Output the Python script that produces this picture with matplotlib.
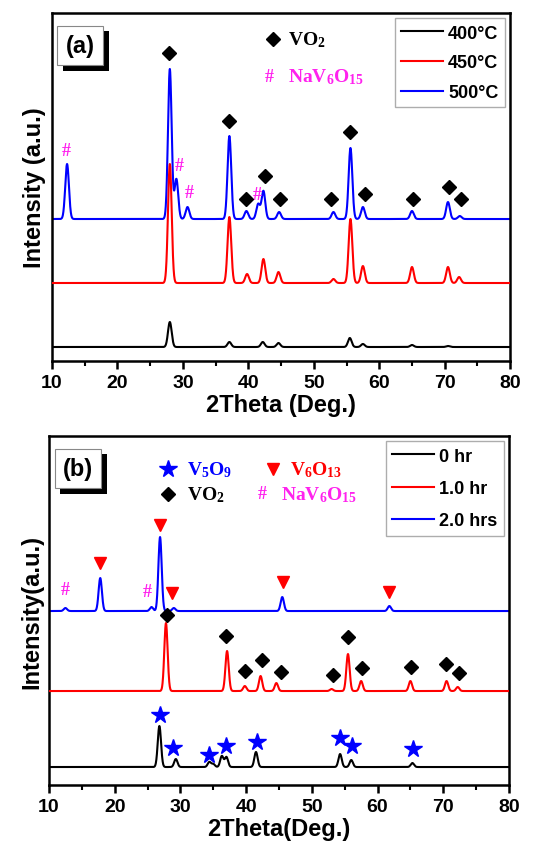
import matplotlib
matplotlib.use('Agg')
import matplotlib.pyplot as plt
import matplotlib.patheffects as pe
import numpy as np

plt.rcParams['font.family'] = 'Liberation Sans'
plt.rcParams['font.weight'] = 'bold'
plt.rcParams['mathtext.fontset'] = 'custom'
plt.rcParams['mathtext.rm'] = 'Liberation Serif:bold'
plt.rcParams['mathtext.bf'] = 'Liberation Serif:bold'
plt.rcParams['mathtext.it'] = 'Liberation Serif:bold'

# ---- panel (a) data: peak positions (2theta) and heights above each baseline ----
a_labels = ['400°C', '450°C', '500°C']
a_offsets = [14, 78, 142]
a_black_pos = [28.0, 37.1, 42.2, 44.6, 55.5, 57.5, 65.0, 70.5]
a_black_int = [25, 5, 5, 4, 9, 3, 2, 1]
a_red_pos = [28.0, 37.1, 39.8, 42.3, 44.6, 53.0, 55.6, 57.5, 65.0, 70.5, 72.2]
a_red_int = [119, 66, 9, 24, 11, 4, 64, 17, 16, 16, 6]
a_blue_pos = [12.3, 28.0, 29.0, 30.7, 37.1, 39.7, 41.5, 42.3, 44.7, 53.0, 55.6, 57.5, 65.0, 70.5, 72.3]
a_blue_int = [55, 150, 40, 12, 83, 8, 15, 28, 7, 7, 71, 12, 8, 17, 3]

a_vo2_x = [27.8, 37.1, 42.5, 39.6, 44.8, 52.7, 55.5, 57.8, 65.1, 70.6, 72.5]
a_vo2_y = [308, 240, 185, 162, 162, 162, 229, 167, 162, 174, 162]
a_nav_x = [12.1, 29.5, 31.0, 41.4]
a_nav_y = [211, 196, 169, 167]

# ---- panel (b) data ----
b_labels = ['0 hr', '1.0 hr', '2.0 hrs']
b_offsets = [18, 94, 174]
b_black_pos = [26.8, 29.3, 34.4, 35.0, 36.3, 37.0, 41.5, 54.3, 56.0, 65.3]
b_black_int = [41, 8, 5, 3, 11, 10, 15, 13, 7, 4]
b_red_pos = [27.8, 37.1, 39.8, 42.2, 44.6, 53.0, 55.5, 57.5, 65.0, 70.5, 72.2]
b_red_int = [68, 40, 5, 15, 8, 2, 37, 10, 10, 10, 4]
b_blue_pos = [12.5, 17.8, 25.6, 26.9, 29.0, 45.5, 61.8]
b_blue_int = [3, 33, 4, 74, 3, 14, 5]

b_v6o13_x = [17.8, 26.9, 28.7, 45.6, 61.7]
b_v6o13_y = [222, 260, 192, 203, 193]
b_nav_x = [12.4, 24.9]
b_nav_y = [196, 194]
b_vo2_x = [28.0, 36.9, 55.5, 39.8, 42.4, 45.3, 53.2, 57.6, 65.1, 70.4, 72.4]
b_vo2_y = [170, 149, 148, 114, 125, 113, 110, 117, 118, 121, 112]
b_v5o9_x = [26.9, 28.9, 34.3, 36.9, 41.6, 54.3, 56.1, 65.4]
b_v5o9_y = [70, 37, 30, 39, 43, 47, 39, 36]

colors = ['black', 'red', 'blue']
magenta = '#ff22ee'
x = np.arange(10, 80.01, 0.02)


def pattern(pos, hts, w=0.28):
    y = np.zeros_like(x)
    for p, h in zip(pos, hts):
        y += h * np.exp(-0.5 * ((x - p) / w) ** 2)
    return y


def label_box(ax, txt, xf, yf):
    t = ax.text(xf, yf, txt, transform=ax.transAxes, fontsize=17, fontweight='bold', va='top',
                bbox=dict(boxstyle='square,pad=0.35', fc='white', ec='#888888', lw=0.8), zorder=6)
    t.get_bbox_patch().set_path_effects([
        pe.SimplePatchShadow(offset=(4, -4), shadow_rgbFace='black', alpha=1.0), pe.Normal()])


def style(ax, xlabel, ylabel, ymax):
    ax.set_xlim(10, 80)
    ax.set_ylim(0, ymax)
    ax.set_xticks(range(10, 81, 10))
    ax.set_xticks(range(15, 80, 10), minor=True)
    ax.set_yticks([])
    ax.tick_params(axis='x', which='major', direction='out', length=6, width=1.8, labelsize=14)
    ax.tick_params(axis='x', which='minor', direction='out', length=3.5, width=1.5)
    for s in ax.spines.values():
        s.set_linewidth(1.8)
    ax.set_xlabel(xlabel, fontsize=17, fontweight='bold', labelpad=1)
    ax.set_ylabel(ylabel, fontsize=17, fontweight='bold', labelpad=4)


def add_legend(ax, spacing):
    leg = ax.legend(loc='upper right', fontsize=13, handlelength=2.3, handletextpad=0.3,
                    borderaxespad=0.3, labelspacing=spacing, fancybox=False, borderpad=0.35)
    leg.get_frame().set_edgecolor('#999999')
    for t in leg.get_texts():
        t.set_fontweight('bold')


fig = plt.figure(figsize=(5.39, 8.45), dpi=100)

# ---------------- panel (a) ----------------
ax1 = fig.add_axes([0.0965, 0.5716, 0.85, 0.4118])
a_series = [(a_black_pos, a_black_int), (a_red_pos, a_red_int), (a_blue_pos, a_blue_int)]
zo = [4, 3, 2]
for (pos, hts), off, c, lab, z in zip(a_series, a_offsets, colors, a_labels, zo):
    ax1.plot(x, off + pattern(pos, hts), color=c, lw=1.5, label=lab, zorder=z)
ax1.plot(a_vo2_x, a_vo2_y, 'D', color='black', ms=7, ls='none', zorder=5)
for xx, yy in zip(a_nav_x, a_nav_y):
    ax1.text(xx, yy, '#', color=magenta, fontsize=13, family='Liberation Serif',
             ha='center', va='center', fontweight='bold')
ax1.plot([0.483], [0.925], 'D', color='black', ms=7, transform=ax1.transAxes)
ax1.text(0.515, 0.925, r'$\mathrm{VO_2}$', transform=ax1.transAxes, fontsize=14, va='center')
ax1.text(0.474, 0.819, '#', transform=ax1.transAxes, fontsize=13, color=magenta,
         family='Liberation Serif', ha='center', va='center')
ax1.text(0.515, 0.819, r'$\mathrm{NaV_6O_{15}}$', transform=ax1.transAxes, fontsize=14,
         va='center', color=magenta)
add_legend(ax1, 0.7)
label_box(ax1, '(a)', 0.03, 0.94)
style(ax1, '2Theta (Deg.)', 'Intensity (a.u.)', 348)

# ---------------- panel (b) ----------------
ax2 = fig.add_axes([0.0909, 0.0698, 0.8534, 0.413])
b_series = [(b_black_pos, b_black_int), (b_red_pos, b_red_int), (b_blue_pos, b_blue_int)]
for (pos, hts), off, c, lab, z in zip(b_series, b_offsets, colors, b_labels, zo):
    ax2.plot(x, off + pattern(pos, hts, 0.25), color=c, lw=1.5, label=lab, zorder=z)
ax2.plot(b_v6o13_x, b_v6o13_y, 'v', color='red', ms=9, ls='none', zorder=5)
ax2.plot(b_vo2_x, b_vo2_y, 'D', color='black', ms=7, ls='none', zorder=5)
ax2.plot(b_v5o9_x, b_v5o9_y, '*', color='blue', ms=13, ls='none', zorder=5)
for xx, yy in zip(b_nav_x, b_nav_y):
    ax2.text(xx, yy, '#', color=magenta, fontsize=13, family='Liberation Serif',
             ha='center', va='center')
ax2.plot([0.259], [0.905], '*', color='blue', ms=13, transform=ax2.transAxes)
ax2.text(0.30, 0.905, r'$\mathrm{V_5O_9}$', transform=ax2.transAxes, fontsize=14,
         va='center', color='blue')
ax2.plot([0.487], [0.905], 'v', color='red', ms=9, transform=ax2.transAxes)
ax2.text(0.525, 0.905, r'$\mathrm{V_6O_{13}}$', transform=ax2.transAxes, fontsize=14,
         va='center', color='red')
ax2.plot([0.259], [0.834], 'D', color='black', ms=7, transform=ax2.transAxes)
ax2.text(0.30, 0.834, r'$\mathrm{VO_2}$', transform=ax2.transAxes, fontsize=14, va='center')
ax2.text(0.463, 0.834, '#', transform=ax2.transAxes, fontsize=13, color=magenta,
         family='Liberation Serif', ha='center', va='center')
ax2.text(0.505, 0.834, r'$\mathrm{NaV_6O_{15}}$', transform=ax2.transAxes, fontsize=14,
         va='center', color=magenta)
add_legend(ax2, 0.85)
label_box(ax2, '(b)', 0.03, 0.94)
style(ax2, '2Theta(Deg.)', 'Intensity(a.u.)', 349)

fig.savefig('out.png', dpi=100)
